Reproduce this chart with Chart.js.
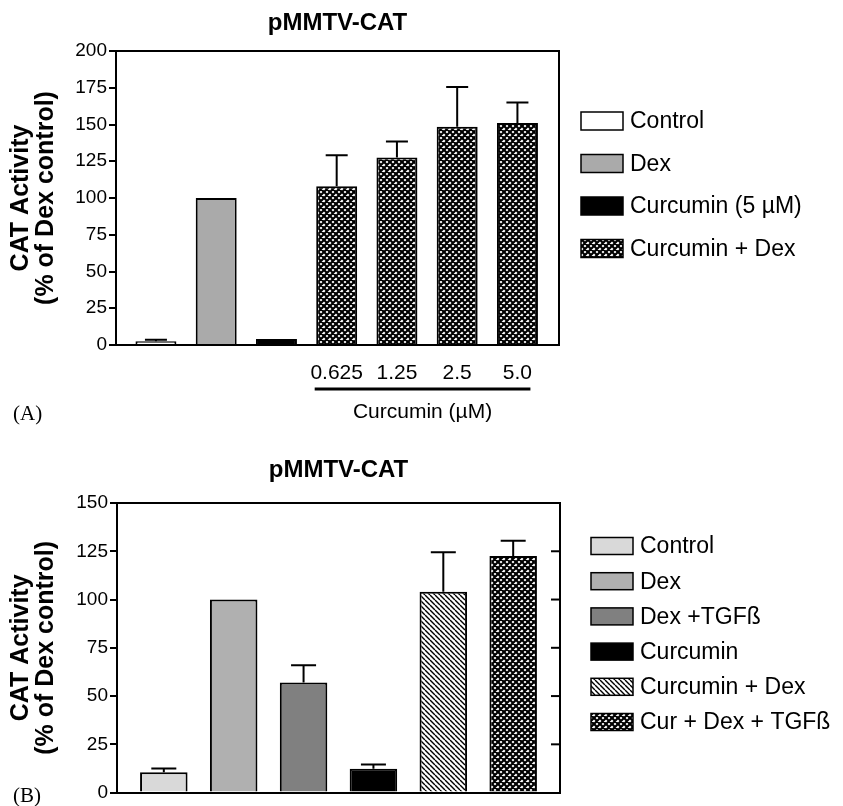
<!DOCTYPE html>
<html>
<head>
<meta charset="utf-8">
<script src="https://cdn.jsdelivr.net/npm/chart.js@4.4.0/dist/chart.umd.min.js"></script>
<style>
  html, body { margin: 0; padding: 0; background: #fff; }
  #wrap { position: relative; width: 843px; height: 806px; overflow: hidden; }
  canvas { position: absolute; left: 0; }
  #chartA { top: 0; }
  #chartB { top: 430px; }
  .panel { position: absolute; left: 13px; font: 21px 'Liberation Serif', 'Times New Roman', serif; color: #000; line-height: 24px; }
</style>
</head>
<body>
<div id="wrap">
  <canvas id="chartA" width="843" height="430"></canvas>
  <canvas id="chartB" width="843" height="376"></canvas>
  <div class="panel" style="top:401px">(A)</div>
  <div class="panel" style="top:783px">(B)</div>
</div>
<script>
// ---- panel A data ----
const aTitle = 'pMMTV-CAT';
const aLegend = ['Control', 'Dex', 'Curcumin (5 µM)', 'Curcumin + Dex'];
const aGroupOfBar = [0, 1, 2, 3, 3, 3, 3];
const aValues = [2.5, 100, 4, 108, 127.5, 148.5, 151];
const aErrors = [1, 0, 0, 21, 11, 27, 14];
const aTickLabels = ['', '', '', '0.625', '1.25', '2.5', '5.0'];
const aBracketLabel = 'Curcumin (µM)';

// ---- panel B data ----
const bTitle = 'pMMTV-CAT';
const bLegend = ['Control', 'Dex', 'Dex +TGFß', 'Curcumin', 'Curcumin + Dex', 'Cur + Dex + TGFß'];
const bValues = [10.5, 100, 57, 12.3, 104, 122.5];
const bErrors = [2, 0, 9, 2.2, 20.5, 8];

const yTitle = ['CAT Activity', '(% of Dex control)'];
const FONT = "'Liberation Sans', Arial, Helvetica, sans-serif";

// fill patterns
function crossHatch() {
  const c = document.createElement('canvas');
  c.width = 6; c.height = 6;
  const g = c.getContext('2d');
  g.fillStyle = '#fff'; g.fillRect(0, 0, 6, 6);
  g.strokeStyle = '#000'; g.lineWidth = 2.2;
  g.beginPath();
  for (const k of [-6, 0, 6]) {
    g.moveTo(k, 0); g.lineTo(k + 6, 6);
    g.moveTo(k + 6, 0); g.lineTo(k, 6);
  }
  g.stroke();
  return g.createPattern(c, 'repeat');
}
function diagHatch() {
  const c = document.createElement('canvas');
  c.width = 5; c.height = 5;
  const g = c.getContext('2d');
  g.fillStyle = '#fff'; g.fillRect(0, 0, 5, 5);
  g.strokeStyle = '#000'; g.lineWidth = 1.4;
  g.beginPath();
  for (const k of [-5, 0, 5]) { g.moveTo(k, 0); g.lineTo(k + 5, 5); }
  g.stroke();
  return g.createPattern(c, 'repeat');
}

const aFills = ['#ffffff', '#aaaaaa', '#000000', crossHatch()];
const bFills = ['#d9d9d9', '#b0b0b0', '#808080', '#000000', diagHatch(), crossHatch()];

// extras: frame, title, error bars, legend, bracket
function extras(o) {
  return {
    id: 'extras',
    afterDraw(chart) {
      const { ctx, chartArea: a, scales: { x, y } } = chart;
      ctx.save();
      ctx.strokeStyle = '#000';
      ctx.fillStyle = '#000';
      ctx.lineWidth = 2;
      ctx.beginPath();
      ctx.moveTo(a.left, a.top); ctx.lineTo(a.right, a.top); ctx.lineTo(a.right, a.bottom);
      ctx.stroke();

      if (o.rightTicks) {
        y.ticks.forEach(t => {
          if (t.value <= y.min || t.value >= y.max) return;
          const py = y.getPixelForValue(t.value);
          ctx.beginPath(); ctx.moveTo(a.right - 9, py); ctx.lineTo(a.right, py); ctx.stroke();
        });
      }

      // error bars (upper only)
      o.values.forEach((v, i) => {
        const e = o.errors[i];
        if (!e) return;
        const px = x.getPixelForValue(i + 1);
        const y0 = y.getPixelForValue(v), y1 = y.getPixelForValue(v + e);
        ctx.beginPath();
        ctx.moveTo(px, y0); ctx.lineTo(px, y1);
        ctx.moveTo(px - o.cap, y1); ctx.lineTo(px + o.cap, y1);
        ctx.stroke();
      });

      ctx.textBaseline = 'middle';
      ctx.textAlign = 'center';
      ctx.font = `bold 24px ${FONT}`;
      ctx.fillText(o.title, (a.left + a.right) / 2, o.titleY);

      if (o.bracket) {
        const b = o.bracket;
        const x0 = x.getPixelForValue(b.from) - 22, x1 = x.getPixelForValue(b.to) + 13;
        ctx.lineWidth = 3;
        ctx.beginPath(); ctx.moveTo(x0, b.y); ctx.lineTo(x1, b.y); ctx.stroke();
        ctx.font = `21px ${FONT}`;
        ctx.fillText(b.label, (x0 + x1) / 2, b.y + 23);
      }

      // legend
      const L = o.legend;
      ctx.textAlign = 'left';
      ctx.font = `23px ${FONT}`;
      ctx.lineWidth = 1.5;
      L.labels.forEach((lab, i) => {
        const cy = L.y0 + i * L.gap;
        ctx.fillStyle = L.fills[i];
        ctx.fillRect(L.x, cy - L.h / 2, L.w, L.h);
        ctx.strokeRect(L.x, cy - L.h / 2, L.w, L.h);
        ctx.fillStyle = '#000';
        ctx.fillText(lab, L.x + L.w + 7, cy + 1);
      });
      ctx.restore();
    }
  };
}

function yAxis(max, width) {
  return {
    min: 0, max: max,
    ticks: { stepSize: 25, color: '#000', padding: 2, font: { family: FONT, size: 19 } },
    grid: { drawOnChartArea: false, tickLength: 7, color: '#000', lineWidth: 2 },
    border: { color: '#000', width: 2 },
    title: {
      display: true, text: yTitle, color: '#000',
      font: { family: FONT, size: 25, weight: 'bold', lineHeight: 1 },
      padding: { top: 8.5, bottom: 0 }
    },
    afterFit(s) { s.width = width; }
  };
}

function xAxis(count, min, max, labels, height, pad) {
  return {
    type: 'linear', min: min, max: max, offset: false,
    grid: { display: false },
    border: { color: '#000', width: 2 },
    ticks: {
      display: !!labels, color: '#000', padding: pad, maxRotation: 0, autoSkip: false,
      font: { family: FONT, size: 21 },
      callback: v => (labels ? labels[v - 1] : '')
    },
    afterBuildTicks(s) { s.ticks = Array.from({ length: count }, (_, i) => ({ value: i + 1 })); },
    afterFit(s) { s.height = height; }
  };
}

function barData(values, groupOf, fills) {
  return {
    datasets: [{
      data: values.map((v, i) => ({ x: i + 1, y: v })),
      backgroundColor: values.map((v, i) => fills[groupOf[i]]),
      borderColor: '#000', borderWidth: 2,
      barPercentage: 0.68, categoryPercentage: 1
    }]
  };
}

const common = {
  responsive: false, animation: false,
  plugins: { legend: { display: false }, tooltip: { enabled: false } }
};

new Chart(document.getElementById('chartA').getContext('2d'), {
  type: 'bar',
  data: barData(aValues, aGroupOfBar, aFills),
  options: Object.assign({}, common, {
    layout: { padding: { top: 51, right: 284, left: 0, bottom: 0 } },
    scales: { x: xAxis(7, 0.337, 7.69, aTickLabels, 85, 8), y: yAxis(200, 116) }
  }),
  plugins: [extras({
    title: aTitle, titleY: 23, values: aValues, errors: aErrors, cap: 11, rightTicks: false,
    bracket: { from: 4, to: 7, y: 389, label: aBracketLabel },
    legend: { labels: aLegend, fills: aFills, x: 581, w: 42, h: 18, y0: 121, gap: 42.5 }
  })]
});

new Chart(document.getElementById('chartB').getContext('2d'), {
  type: 'bar',
  data: barData(bValues, [0, 1, 2, 3, 4, 5], bFills),
  options: Object.assign({}, common, {
    layout: { padding: { top: 73, right: 283, left: 0, bottom: 0 } },
    scales: { x: xAxis(6, 0.33, 6.67, null, 9, 0), y: yAxis(150, 117) }
  }),
  plugins: [extras({
    title: bTitle, titleY: 40, values: bValues, errors: bErrors, cap: 12.5, rightTicks: true,
    legend: { labels: bLegend, fills: bFills, x: 591, w: 42, h: 17, y0: 116, gap: 35.2 }
  })]
});
</script>
</body>
</html>
